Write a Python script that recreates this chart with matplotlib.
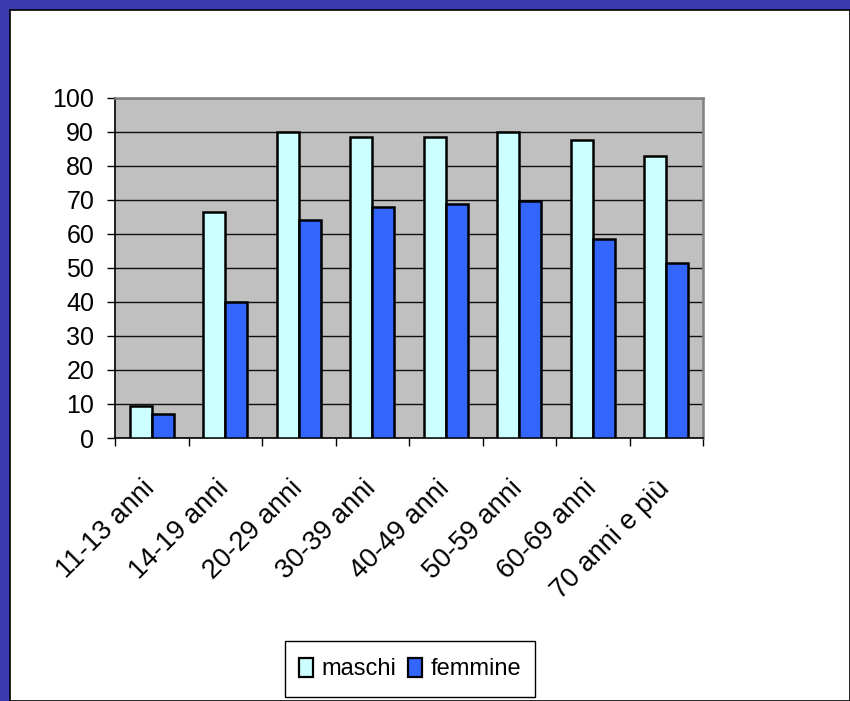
import numpy as np
import matplotlib
matplotlib.use("Agg")
import matplotlib.pyplot as plt
from matplotlib.patches import Rectangle, Patch

# Dati (percentuali)
categorie = ["11-13 anni", "14-19 anni", "20-29 anni", "30-39 anni",
             "40-49 anni", "50-59 anni", "60-69 anni", "70 anni e più"]
maschi = [9.4, 66.4, 89.9, 88.3, 88.3, 89.9, 87.5, 82.8]
femmine = [7.0, 39.8, 64.0, 67.9, 68.7, 69.5, 58.5, 51.5]

plt.rcParams['font.family'] = ['Liberation Sans', 'DejaVu Sans']

W, H = 850, 701
fig = plt.figure(figsize=(W / 100, H / 100), dpi=100)
fig.patch.set_facecolor('#3b3bb0')

# white slide panel with thin black edge
panel = Rectangle((10 / W, 0), 1 - 10 / W, 1 - 10 / H, transform=fig.transFigure,
                  facecolor='white', edgecolor='black', linewidth=1.2, zorder=-10)
fig.patches.append(panel)

ax = fig.add_axes([115 / W, 1 - 438 / H, 588 / W, 340.5 / H])
ax.set_zorder(1)
ax.set_facecolor('#c0c0c0')

x = np.arange(len(categorie))
bw = 0.30
ax.bar(x - bw / 2, maschi, bw, color='#ccffff', edgecolor='black', linewidth=1.8,
       label='maschi', zorder=3)
ax.bar(x + bw / 2, femmine, bw, color='#3366ff', edgecolor='black', linewidth=1.8,
       label='femmine', zorder=3)

ax.set_xlim(-0.5, len(categorie) - 0.5)
ax.set_ylim(0, 100)
ax.set_yticks(np.arange(0, 101, 10))
ax.yaxis.grid(True, color='#101010', linewidth=1.0, zorder=1)
ax.set_axisbelow(True)

# category labels, rotated 45 degrees
ax.set_xticks([])
ax.set_xticks(np.arange(-0.5, len(categorie)), minor=True)
ax.tick_params(axis='x', which='minor', length=6, width=1, direction='out', color='black')
for xi, lab in zip(x, categorie):
    ax.annotate(lab, xy=(xi, 0), xycoords=('data', 'axes fraction'),
                xytext=(-7, -27), textcoords='offset points', rotation=45,
                ha='right', va='top', rotation_mode='anchor', fontsize=19.5,
                annotation_clip=False)
ax.tick_params(axis='y', length=6, width=1, direction='out', labelsize=18, pad=9)

for s in ['top', 'right']:
    ax.spines[s].set_color('#808080')
    ax.spines[s].set_linewidth(1.8)
for s in ['left', 'bottom']:
    ax.spines[s].set_color('black')
    ax.spines[s].set_linewidth(1.2)

# legend frame
frame = Rectangle((285 / W, 1 - 697 / H), 250 / W, 56 / H, transform=fig.transFigure,
                  facecolor='white', edgecolor='black', linewidth=1.0, zorder=-5)
fig.patches.append(frame)
handles = [Patch(facecolor='#ccffff', edgecolor='black', linewidth=1.6, label='maschi'),
           Patch(facecolor='#3366ff', edgecolor='black', linewidth=1.6, label='femmine')]
fig.legend(handles=handles, loc='center', bbox_to_anchor=(410 / W, 1 - 669 / H),
           ncol=2, frameon=False, fontsize=17, handlelength=0.6, handleheight=0.9,
           handletextpad=0.35, columnspacing=0.5, borderpad=0)

fig.savefig('out.png', dpi=100)
